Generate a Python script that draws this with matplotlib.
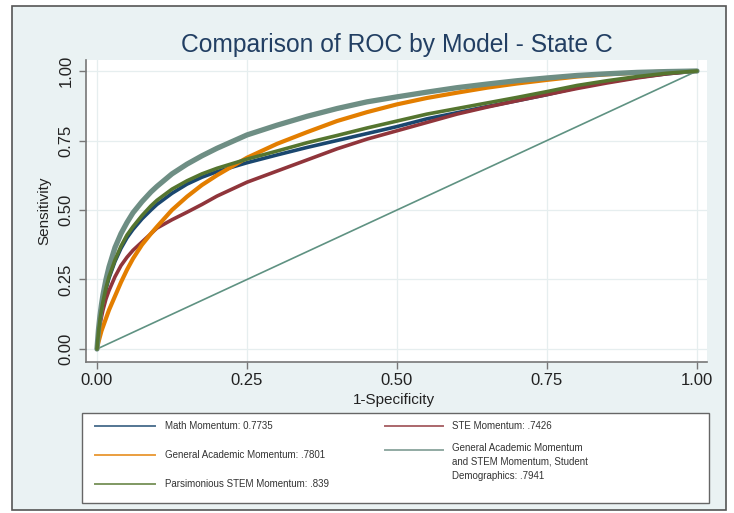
import matplotlib
matplotlib.use("Agg")
import matplotlib.pyplot as plt
from matplotlib.patches import Rectangle
from matplotlib.lines import Line2D

plt.rcParams['font.family'] = ['Liberation Sans', 'DejaVu Sans']

# ---- data ----
fpr = [0, 0.0025, 0.005, 0.0075, 0.01, 0.015, 0.02, 0.03, 0.04, 0.05, 0.06, 0.075,
       0.09, 0.1, 0.125, 0.15, 0.175, 0.2, 0.25, 0.3, 0.35, 0.4, 0.45, 0.5, 0.55,
       0.6, 0.65, 0.7, 0.75, 0.8, 0.85, 0.9, 0.95, 1.0]
tpr_math = [0, 0.06, 0.10, 0.135, 0.165, 0.215, 0.255, 0.315, 0.362, 0.40, 0.43, 0.468,
            0.50, 0.52, 0.56, 0.593, 0.618, 0.638, 0.67, 0.698, 0.725, 0.75, 0.775, 0.80,
            0.828, 0.85, 0.872, 0.893, 0.915, 0.94, 0.96, 0.977, 0.99, 1.0]
tpr_ste = [0, 0.05, 0.085, 0.115, 0.14, 0.18, 0.21, 0.26, 0.30, 0.33, 0.355, 0.385,
           0.415, 0.435, 0.465, 0.492, 0.52, 0.55, 0.60, 0.64, 0.68, 0.72, 0.755, 0.785,
           0.815, 0.845, 0.87, 0.893, 0.915, 0.937, 0.957, 0.975, 0.99, 1.0]
tpr_gen = [0, 0.025, 0.045, 0.065, 0.08, 0.11, 0.14, 0.19, 0.24, 0.285, 0.325, 0.375,
           0.415, 0.44, 0.50, 0.548, 0.59, 0.625, 0.688, 0.738, 0.78, 0.82, 0.852, 0.88,
           0.903, 0.922, 0.94, 0.955, 0.968, 0.98, 0.988, 0.994, 0.998, 1.0]
tpr_full = [0, 0.07, 0.12, 0.16, 0.195, 0.25, 0.295, 0.365, 0.415, 0.455, 0.49, 0.53,
            0.565, 0.585, 0.63, 0.665, 0.695, 0.722, 0.77, 0.805, 0.837, 0.865, 0.889, 0.907,
            0.924, 0.94, 0.953, 0.965, 0.975, 0.984, 0.99, 0.995, 0.998, 1.0]
tpr_pars = [0, 0.06, 0.105, 0.14, 0.17, 0.22, 0.26, 0.32, 0.37, 0.41, 0.44, 0.48,
            0.515, 0.535, 0.575, 0.605, 0.63, 0.65, 0.683, 0.712, 0.742, 0.768, 0.795, 0.82,
            0.845, 0.865, 0.885, 0.905, 0.926, 0.948, 0.965, 0.98, 0.992, 1.0]
ref_x = [0, 1]
ref_y = [0, 1]

labels = ["Math Momentum: 0.7735",
          "STE Momentum: .7426",
          "General Academic Momentum: .7801",
          "General Academic Momentum\nand STEM Momentum, Student\nDemographics: .7941",
          "Parsimonious STEM Momentum: .839"]
colors = ["#1a476f", "#90353b", "#e37e00", "#6e8e84", "#55752f"]
series = [tpr_math, tpr_ste, tpr_gen, tpr_full, tpr_pars]
widths = [2.6, 2.6, 3.0, 3.8, 2.6]
xticks = [0, 0.25, 0.5, 0.75, 1.0]
yticks = [0, 0.25, 0.5, 0.75, 1.0]

W, H = 734, 513
fig = plt.figure(figsize=(W / 100, H / 100), dpi=100, facecolor="white")

def fx(px):
    return px / W

def fy(py):
    return 1 - py / H

bg = "#eaf2f3"
fig.patches.append(Rectangle((fx(12), fy(510)), fx(726) - fx(12), fy(6) - fy(510),
                             transform=fig.transFigure, facecolor=bg,
                             edgecolor="#555555", linewidth=1.2, zorder=-5))

ax = fig.add_axes([fx(86), fy(362), fx(707) - fx(86), fy(60) - fy(362)])
ax.set_zorder(2)
ax.set_facecolor("white")
ax.set_xlim(-0.0183, 1.0167)
ax.set_ylim(-0.0468, 1.0396)

ax.plot(ref_x, ref_y, color="#5f9282", lw=1.2, zorder=2)
for ys, c, lw, z in zip(series, colors, widths, [3, 4, 5, 6, 7]):
    ax.plot(fpr, ys, color=c, lw=lw, zorder=z, solid_capstyle="round",
            solid_joinstyle="round")

ax.set_xticks(xticks)
ax.set_yticks(yticks)
ax.set_xticklabels([f"{t:.2f}" for t in xticks])
ax.set_yticklabels([f"{t:.2f}" for t in yticks], rotation=90, va="center")
ax.tick_params(axis="both", direction="out", length=5, width=1, color="#777777",
               labelsize=12, labelcolor="#222222")
ax.tick_params(axis="x", pad=3)
ax.tick_params(axis="y", pad=4)
ax.grid(True, color="#e6eeef", linewidth=0.9, zorder=1)
ax.set_axisbelow(True)
for s in ["top", "right"]:
    ax.spines[s].set_visible(False)
for s in ["left", "bottom"]:
    ax.spines[s].set_color("#777777")
    ax.spines[s].set_linewidth(1.2)

fig.text(fx(397), fy(45), "Comparison of ROC by Model - State C", ha="center",
         va="center", fontsize=17.7, color="#223f63")
fig.text(fx(394), fy(400), "1-Specificity", ha="center", va="center",
         fontsize=11, color="#222222")
fig.text(fx(44), fy(211), "Sensitivity", ha="center", va="center", rotation=90,
         fontsize=11, color="#222222")

# legend box
fig.patches.append(Rectangle((fx(82), fy(503)), fx(709) - fx(82), fy(413) - fy(503),
                             transform=fig.transFigure, facecolor="white",
                             edgecolor="#666666", linewidth=1.0, zorder=1))
leg_pos = [(95, 155, 165, 426), (385, 443, 452, 426), (95, 155, 165, 455),
           (385, 443, 452, 462), (95, 155, 165, 484)]
handle_y = [426, 426, 455, 450, 484]
for (x0, x1, xt, yt), hy, lab, c in zip(leg_pos, handle_y, labels, colors):
    fig.lines.append(Line2D([fx(x0), fx(x1)], [fy(hy), fy(hy)], transform=fig.transFigure,
                            color=c, lw=1.4, alpha=0.75, zorder=2))
    fig.text(fx(xt), fy(yt), lab, ha="left", va="center", fontsize=7,
             color="#333333", linespacing=1.45, zorder=3)

fig.savefig("out.png", dpi=100, facecolor="white")
